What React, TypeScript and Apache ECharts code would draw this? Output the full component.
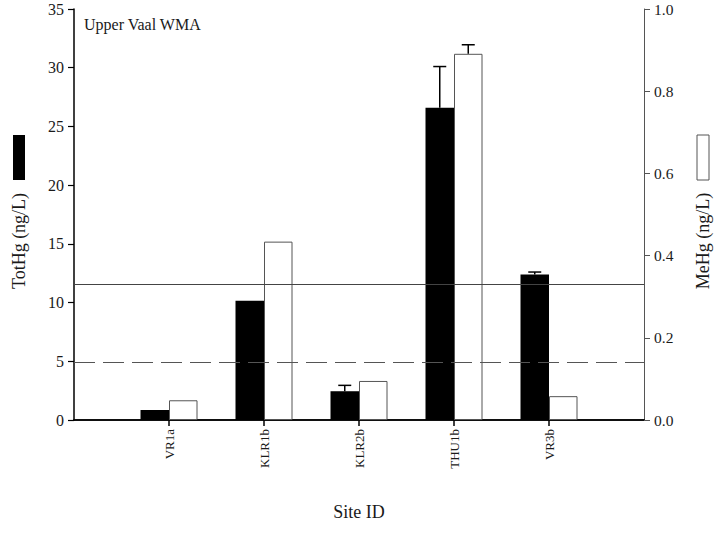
import React, { useEffect, useRef } from "react";
import * as echarts from "echarts";

const categories = ["", "VR1a", "KLR1b", "KLR2b", "THU1b", "VR3b", ""];
const totHg = [null, 0.85, 10.15, 2.45, 26.6, 12.4, null];
const meHg = [null, 0.048, 0.434, 0.095, 0.891, 0.058, null];
// [categoryIndex, barValue, errorTop]
const totHgErr = [
  [3, 2.45, 2.95],
  [4, 26.6, 30.1],
  [5, 12.4, 12.6],
];
const meHgErr = [[4, 0.891, 0.913]];
const leftTicks = { min: 0, max: 35, interval: 5 };
const rightTicks = { min: 0, max: 1, interval: 0.2 };
const refSolid = 11.65;
const refDashed = 5;

const FONT = "'Liberation Serif', 'Times New Roman', serif";
const HALF = 14.25;

function errRender(offset: number) {
  return (params: any, api: any) => {
    const idx = api.value(0);
    const p0 = api.coord([idx, api.value(1)]);
    const p1 = api.coord([idx, api.value(2)]);
    const x = p0[0] + offset;
    const style = { stroke: "#000", lineWidth: 1.5 };
    return {
      type: "group",
      children: [
        { type: "line", shape: { x1: x, y1: p0[1], x2: x, y2: p1[1] }, style },
        { type: "line", shape: { x1: x - 6.5, y1: p1[1], x2: x + 6.5, y2: p1[1] }, style },
      ],
    };
  };
}

export default function App() {
  const ref = useRef<HTMLDivElement>(null);
  useEffect(() => {
    if (!ref.current) return;
    const chart = echarts.init(ref.current, null, { renderer: "svg" });
    chart.setOption({
      animation: false,
      backgroundColor: "#fff",
      grid: { left: 74, right: 71, top: 9, bottom: 119 },
      xAxis: [
        {
          type: "category",
          data: categories,
          boundaryGap: false,
          axisLine: { lineStyle: { color: "#000", width: 1.5 } },
          axisTick: {
            interval: (i: number) => i >= 1 && i <= 5,
            length: 6,
            lineStyle: { color: "#000", width: 1.5 },
          },
          axisLabel: {
            interval: 0,
            rotate: 90,
            margin: 9,
            fontFamily: FONT,
            fontSize: 13,
            color: "#1a1a1a",
          },
        },
        {
          type: "category",
          data: categories,
          position: "top",
          boundaryGap: false,
          axisLine: { lineStyle: { color: "#000", width: 1.5 } },
          axisTick: { show: false },
          axisLabel: { show: false },
        },
      ],
      yAxis: [
        {
          type: "value",
          ...leftTicks,
          position: "left",
          axisLine: { show: true, lineStyle: { color: "#000", width: 1.5 } },
          axisTick: { show: true, length: 6, lineStyle: { color: "#000", width: 1.2 } },
          axisLabel: { fontFamily: FONT, fontSize: 16, color: "#1a1a1a", margin: 10 },
          splitLine: { show: false },
        },
        {
          type: "value",
          ...rightTicks,
          position: "right",
          axisLine: { show: true, lineStyle: { color: "#555", width: 1 } },
          axisTick: { show: true, length: 6, lineStyle: { color: "#555", width: 1 } },
          axisLabel: {
            fontFamily: FONT,
            fontSize: 15.5,
            color: "#1a1a1a",
            margin: 10,
            formatter: (v: number) => v.toFixed(1),
          },
          splitLine: { show: false },
        },
      ],
      series: [
        {
          type: "bar",
          name: "TotHg",
          xAxisIndex: 0,
          yAxisIndex: 0,
          data: totHg,
          barWidth: 28.5,
          barGap: "0%",
          itemStyle: { color: "#000" },
          z: 2,
        },
        {
          type: "bar",
          name: "MeHg",
          xAxisIndex: 0,
          yAxisIndex: 1,
          data: meHg,
          barWidth: 28.5,
          barGap: "0%",
          itemStyle: { color: "#fff", borderColor: "#555", borderWidth: 1 },
          z: 2,
          markLine: {
            silent: true,
            symbol: "none",
            label: { show: false },
            data: [
              { yAxis: refSolid / 35, lineStyle: { color: "#444", width: 1, type: "solid" } },
              { yAxis: refDashed / 35, lineStyle: { color: "#555", width: 1.2, type: [21, 8] } },
            ],
            z: 3,
          },
        },
        {
          type: "custom",
          xAxisIndex: 0,
          yAxisIndex: 0,
          data: totHgErr,
          renderItem: errRender(-HALF),
          z: 4,
        },
        {
          type: "custom",
          xAxisIndex: 0,
          yAxisIndex: 1,
          data: meHgErr,
          renderItem: errRender(HALF),
          z: 4,
        },
      ],
      graphic: [
        {
          type: "text",
          x: 84,
          y: 16,
          style: { text: "Upper Vaal WMA", font: `16px ${FONT}`, fill: "#1a1a1a" },
        },
        { type: "rect", shape: { x: 13, y: 135, width: 12, height: 45 }, style: { fill: "#000" } },
        {
          type: "text",
          x: 19,
          y: 241,
          rotation: Math.PI / 2,
          style: {
            text: "TotHg (ng/L)",
            font: `18px ${FONT}`,
            fill: "#1a1a1a",
            align: "center",
            verticalAlign: "middle",
          },
        },
        {
          type: "rect",
          shape: { x: 697, y: 135, width: 12, height: 45 },
          style: { fill: "#fff", stroke: "#555", lineWidth: 1 },
        },
        {
          type: "text",
          x: 703,
          y: 241,
          rotation: Math.PI / 2,
          style: {
            text: "MeHg (ng/L)",
            font: `18px ${FONT}`,
            fill: "#1a1a1a",
            align: "center",
            verticalAlign: "middle",
          },
        },
        {
          type: "text",
          x: 359,
          y: 512,
          style: {
            text: "Site ID",
            font: `18px ${FONT}`,
            fill: "#1a1a1a",
            align: "center",
            verticalAlign: "middle",
          },
        },
      ],
    });
    return () => chart.dispose();
  }, []);
  return <div ref={ref} style={{ width: 715, height: 539, position: "absolute", left: 0, top: 0 }} />;
}
